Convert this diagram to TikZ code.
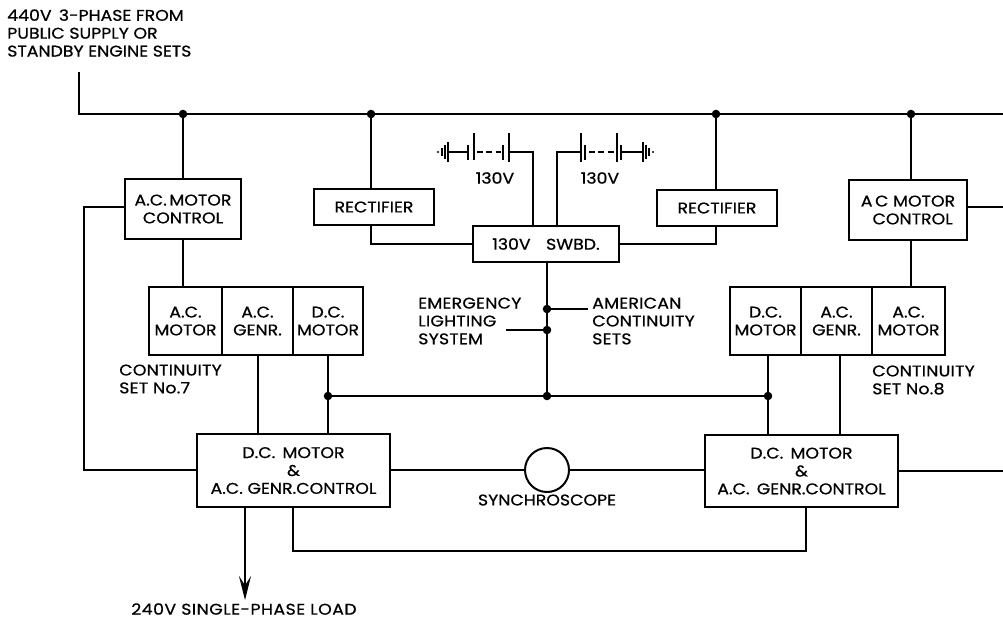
\documentclass[tikz,border=0pt]{standalone}
\usepackage{fontspec}
\setmainfont{Poppins}[FakeBold=0.7, FakeStretch=1.12]
\usetikzlibrary{arrows.meta, calc}

\newcommand{\lbl}{\fontsize{11.6}{13.4}\selectfont}
\tikzset{
    wire/.style={line width=1.5pt},
    box/.style n args={2}{draw, line width=1.5pt, minimum width=#1*0.75pt, minimum height=#2*0.75pt,
        inner sep=0pt, align=center, font=\lbl},
    lab/.style={inner sep=0pt, align=left, anchor=west, font=\lbl\addfontfeature{LetterSpace=1.5}},
    plate/.style={line width=0.8pt},
    cell/.style={line width=2.2pt}
}

\begin{document}
\begin{tikzpicture}[x=0.75pt, y=-0.75pt]
    \useasboundingbox (0,0) rectangle (1003,619);

    % Supply
    \node[lab, font=\lbl] (supply) at (7,33) {440V\, 3-PHASE FROM\\PUBLIC SUPPLY OR\\STANDBY ENGINE SETS};
    \coordinate (Start) at (79,72);
    \coordinate (BusEnd) at (1003,114);
    \coordinate (J1) at (183,114);
    \coordinate (J2) at (371,114);
    \coordinate (J3) at (716,114);
    \coordinate (J4) at (911,114);
    \draw[wire] (Start) |- (BusEnd);

    % Control boxes
    \node[box={116}{60}] (acL) at (183,209) {A.C.\,MOTOR\\CONTROL};
    \node[box={118}{60}] (acR) at (908,210) {A\,C MOTOR\\\ \ CONTROL};
    \node[box={120}{36}] (recL) at (374,207) {RECTIFIER};
    \node[box={120}{36}] (recR) at (717,208) {RECTIFIER};
    \node[box={146}{36}] (swbd) at (546,244) {130V\quad SWBD.};

    % Continuity set 7
    \node[box={73}{68}] (s7a) at (185.5,321) {A.C.\\MOTOR};
    \node[box={71}{68}] (s7b) at (257.5,321) {A.C.\\GENR.};
    \node[box={70}{68}] (s7c) at (328,321) {D.C.\\MOTOR};
    \node[lab] (s7) at (119,379) {CONTINUITY\\SET No.7};

    % Continuity set 8
    \node[box={71}{68}] (s8a) at (765.5,321) {D.C.\\MOTOR};
    \node[box={71}{68}] (s8b) at (836.5,321) {A.C.\\GENR.};
    \node[box={73}{68}] (s8c) at (908.5,321) {A.C.\\MOTOR};
    \node[lab] (s8) at (872,380) {CONTINUITY\\SET No.8};

    % Generator controls
    \node[box={193}{73}] (ctlL) at (293.5,470.5) {D.C.\,\ MOTOR\\\&\\A.C. GENR.CONTROL};
    \node[box={193}{72}] (ctlR) at (801.5,471) {D.C.\,\ MOTOR\\\&\\A.C.\,\ GENR.CONTROL};

    % Feeds from the bus
    \draw[wire] (J1) -- (acL.north);
    \draw[wire] (J2) -- (J2 |- recL.north);
    \draw[wire] (J3) -- (J3 |- recR.north);
    \draw[wire] (J4) -- (J4 |- acR.north);
    \draw[wire] (acL.south) -- (acL.south |- s7a.north);
    \draw[wire] (acR.south -| J4) -- (J4 |- s8c.north);
    \draw[wire] (J2 |- recL.south) |- (swbd.west);
    \draw[wire] (J3 |- recR.south) |- (swbd.east);

    % Outer feeders
    \coordinate (LeftV) at (84,207);
    \coordinate (LeftB) at (84,470);
    \coordinate (EdgeA) at (1003,207);
    \coordinate (EdgeB) at (1003,471);
    \draw[wire] (acL.west |- LeftV) -- (LeftV) -- (LeftB) -- (ctlL.west |- LeftB);
    \draw[wire] (acR.east |- EdgeA) -- (EdgeA);
    \draw[wire] (ctlR.east |- EdgeB) -- (EdgeB);

    % DC bus
    \coordinate (D1) at (328,396);
    \coordinate (D2) at (547,396);
    \coordinate (D3) at (768,396);
    \coordinate (G7) at (258,396);
    \coordinate (G8) at (840,396);
    \coordinate (E1) at (547,309);
    \coordinate (E2) at (547,330);
    \coordinate (Am) at (588,309);
    \coordinate (Em) at (506,330);
    \draw[wire] (D1) -- (D3);
    \draw[wire] (s7c.south) -- (s7c.south |- ctlL.north);
    \draw[wire] (G7 |- s7b.south) -- (G7 |- ctlL.north);
    \draw[wire] (D3 |- s8a.south) -- (D3 |- ctlR.north);
    \draw[wire] (G8 |- s8b.south) -- (G8 |- ctlR.north);
    \draw[wire] (D2 |- swbd.south) -- (D2);
    \draw[wire] (E1) -- (Am);
    \draw[wire] (E2) -- (Em);
    \foreach \j in {J1,J2,J3,J4,D1,D2,D3,E1,E2}
        \fill (\j) circle (3.2pt);
    \node[lab] (emerg) at (418,321) {EMERGENCY\\LIGHTING\\SYSTEM};
    \node[lab] (amer) at (592,321) {AMERICAN\\CONTINUITY\\SETS};

    % Synchroscope
    \node[draw, circle, line width=1.5pt, minimum size=33pt, inner sep=0pt] (sync) at (547,470) {};
    \node[inner sep=0pt, font=\lbl] (synclab) at (547,500) {SYNCHROSCOPE};
    \draw[wire] (ctlL.east |- sync) -- (sync.west);
    \draw[wire] (sync.east) -- (ctlR.west |- sync);
    \coordinate (LinkL) at (293,551);
    \coordinate (LinkR) at (806,551);
    \draw[wire] (LinkL |- ctlL.south) -- (LinkL) -- (LinkR) -- (LinkR |- ctlR.south);

    % Load
    \coordinate (Tip) at (245,600);
    \draw[wire, -{Stealth[length=18pt, width=9pt, inset=7pt]}] (Tip |- ctlL.south) -- (Tip);
    \node[inner sep=0pt, font=\lbl\addfontfeature{LetterSpace=3}] (load) at (244,609) {240V SINGLE-PHASE LOAD};

    % Left battery
    \coordinate (BL) at (533,152);
    \draw[wire] (BL |- swbd.north) -- (BL) -- (509,152);
    \draw[plate] (509,133) -- (509,162);
    \draw[cell] (503,145) -- (503,160);
    \draw[plate, dash pattern=on 4.5pt off 2.5pt] (477,152) -- (501,152);
    \draw[plate] (474,133) -- (474,160);
    \draw[cell] (468,145) -- (468,160);
    \draw[wire] (468,152) -- (448,152);
    \draw[plate] (448,142) -- (448,162) (445,145) -- (445,159) (442,148) -- (442,156);
    \fill (438,152) circle (0.9pt);
    \node[inner sep=0pt, font=\lbl] (vL) at (495,178) {130V};

    % Right battery
    \coordinate (BR) at (557,152);
    \draw[wire] (BR |- swbd.north) -- (BR) -- (581,152);
    \draw[plate] (581,133) -- (581,162);
    \draw[cell] (585,145) -- (585,160);
    \draw[plate, dash pattern=on 4.5pt off 2.5pt] (589,152) -- (614,152);
    \draw[plate] (617,133) -- (617,162);
    \draw[cell] (621,145) -- (621,160);
    \draw[wire] (621,152) -- (643,152);
    \draw[plate] (643,142) -- (643,162) (646,145) -- (646,159) (649,148) -- (649,156);
    \fill (653,152) circle (0.9pt);
    \node[inner sep=0pt, font=\lbl] (vR) at (600,178) {130V};
\end{tikzpicture}
\end{document}
